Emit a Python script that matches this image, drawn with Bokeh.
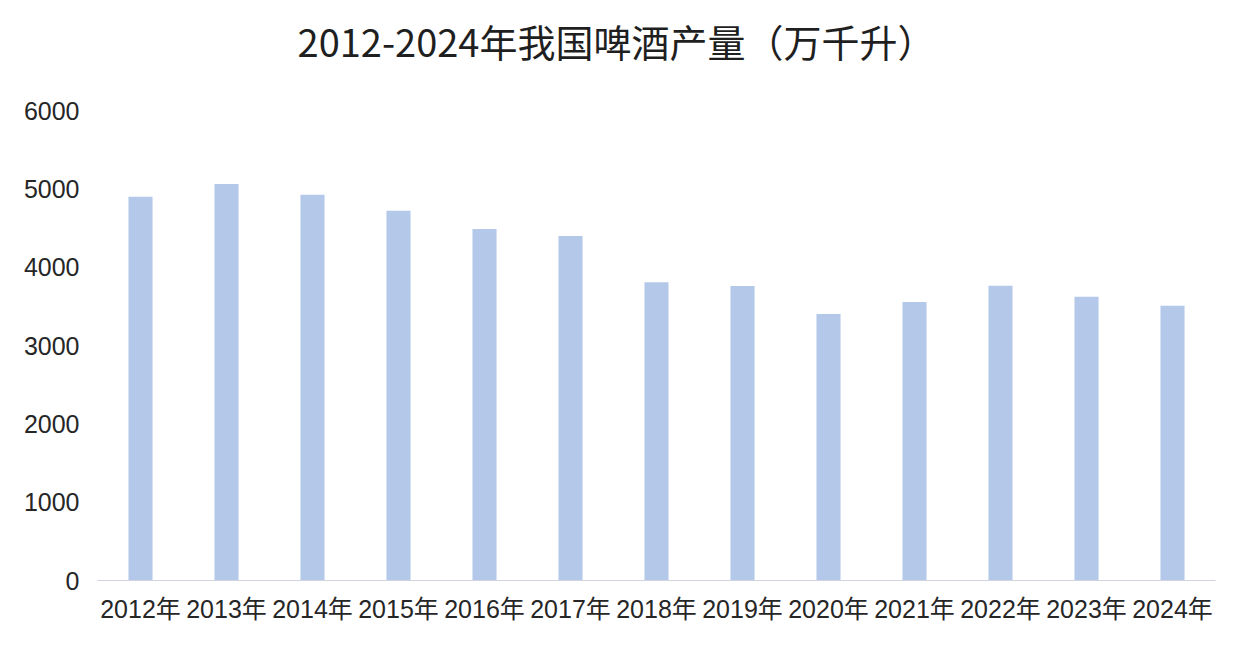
from bokeh.plotting import figure
from bokeh.models import ColumnDataSource, Range1d, FactorRange, FixedTicker, Label
from bokeh.embed import file_html
from bokeh.resources import INLINE

years = ["2012年", "2013年", "2014年", "2015年", "2016年", "2017年", "2018年",
         "2019年", "2020年", "2021年", "2022年", "2023年", "2024年"]
output = [4900, 5062, 4925, 4721, 4487, 4398, 3807, 3760, 3402, 3555, 3763, 3623, 3508]
y_ticks = [0, 1000, 2000, 3000, 4000, 5000, 6000]
title_text = "2012-2024年我国啤酒产量（万千升）"

# layout: frame spans the full canvas height above the x axis; the value 6000
# sits 470 px above the baseline, leaving room for the title inside the frame
W, H = 1226, 637
border_bottom = 57
frame_h = H - border_bottom
axis_px = 470
y_top = y_ticks[-1] * frame_h / axis_px

src = ColumnDataSource(dict(year=years, value=output))

p = figure(width=W, height=H, output_backend="svg", toolbar_location=None, title=None,
           x_range=FactorRange(factors=years, range_padding=0),
           y_range=Range1d(0, y_top),
           min_border_left=97, min_border_right=11, min_border_top=0,
           min_border_bottom=border_bottom)

p.vbar(x="year", top="value", width=0.28, source=src,
       fill_color="#b4c8ea", line_color=None)

title = Label(x=519, y=frame_h - 40, x_units="screen", y_units="screen", text=title_text,
              text_align="center", text_baseline="middle",
              text_font="Noto Sans CJK SC", text_font_size="38px",
              text_color="#1f1f1f")
p.add_layout(title)

font = "'Liberation Sans', 'Noto Sans CJK SC'"
p.xgrid.visible = False
p.ygrid.visible = False
p.outline_line_color = None
p.background_fill_color = "#ffffff"
p.border_fill_color = "#ffffff"

p.yaxis.ticker = FixedTicker(ticks=y_ticks)
p.yaxis.axis_line_color = None
p.yaxis.major_tick_line_color = None
p.yaxis.minor_tick_line_color = None
p.yaxis.major_label_text_font = font
p.yaxis.major_label_text_font_size = "25px"
p.yaxis.major_label_text_color = "#262626"
p.yaxis.major_label_standoff = 12

p.xaxis.axis_line_color = "#d0d5dd"
p.xaxis.axis_line_width = 1
p.xaxis.major_tick_line_color = None
p.xaxis.minor_tick_line_color = None
p.xaxis.major_label_text_font = font
p.xaxis.major_label_text_font_size = "25px"
p.xaxis.major_label_text_color = "#262626"
p.xaxis.major_label_standoff = 8

open("out.html", "w").write(file_html(p, INLINE))
